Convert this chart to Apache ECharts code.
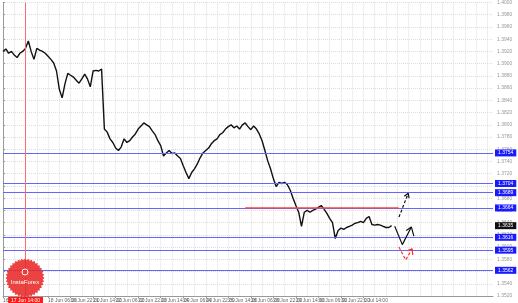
<!DOCTYPE html>
<html><head><meta charset="utf-8">
<script src="https://cdn.jsdelivr.net/npm/echarts@6.0.0/dist/echarts.min.js"></script>
<style>html,body{margin:0;padding:0;background:#fff}#c{width:518px;height:303px}</style>
</head><body><div id="c"></div>
<script>
// ---- data ----
const tickLabels = ["16 Jun 2021","17 Jun 14:00","18 Jun 06:00","18 Jun 22:00","21 Jun 14:00","22 Jun 06:00","22 Jun 22:00","23 Jun 14:00","24 Jun 06:00","24 Jun 22:00","25 Jun 14:00","28 Jun 06:00","28 Jun 22:00","29 Jun 14:00","30 Jun 06:00","30 Jun 22:00","1 Jul 14:00","2 Jul 06:00"];
const closes = [
1.3920,1.3924,1.3917,1.3920,1.3914,1.3910,1.3917,1.3920,1.3925,1.3937,
1.3920,1.3907,1.3925,1.3922,1.3920,1.3917,1.3912,1.3907,1.3901,1.3888,
1.3858,1.3844,1.3867,1.3884,1.3881,1.3878,1.3873,1.3868,1.3875,1.3883,
1.3875,1.3862,1.3888,1.3889,1.3888,1.3891,1.3793,1.3788,1.3777,1.3771,
1.3762,1.3758,1.3764,1.3777,1.3771,1.3774,1.3780,1.3785,1.3793,1.3798,
1.3803,1.3800,1.3797,1.3790,1.3784,1.3774,1.3766,1.3749,1.3754,1.3758,
1.3753,1.3754,1.3749,1.3745,1.3733,1.3722,1.3712,1.3722,1.3728,1.3736,
1.3746,1.3754,1.3758,1.3762,1.3769,1.3774,1.3777,1.3784,1.3787,1.3793,
1.3797,1.3800,1.3795,1.3798,1.3793,1.3800,1.3803,1.3797,1.3792,1.3798,
1.3793,1.3785,1.3774,1.3758,1.3741,1.3728,1.3712,1.3699,1.3706,1.3704,
1.3706,1.3702,1.3693,1.3680,1.3668,1.3657,1.3634,1.3657,1.3660,1.3657,
1.3660,1.3662,1.3665,1.3668,1.3662,1.3655,1.3647,1.3640,1.3614,1.3627,
1.3631,1.3629,1.3632,1.3634,1.3636,1.3639,1.3640,1.3642,1.3640,1.3647,
1.3650,1.3637,1.3636,1.3637,1.3636,1.3634,1.3632,1.3632,1.3635];
const totalBars = 175;
const levels = [1.3754, 1.3704, 1.3689, 1.3664, 1.3616, 1.3595, 1.3562];
const redLevel = 1.3664;
const redRange = [86, 140.5];
const markerIndex = 8;
const markerLabel = "17 Jun 14:00";
const arrowUp = [[140.6,1.3649],[143.9,1.3688]];
const arrowUpHead = [[142.5,1.3683],[143.9,1.3688],[144.2,1.3680]];
const arrowV = [[139.1,1.3634],[141.8,1.3604],[145.0,1.3633]];
const arrowVHead = [[143.2,1.3627],[145.0,1.3633],[145.9,1.3618]];
const arrowRed = [[140.6,1.3600],[143.0,1.3579],[145.3,1.3597]];
const arrowRedHead = [[143.5,1.3594],[145.3,1.3597],[145.5,1.3587]];
const yMin = 1.3520, yMax = 1.4000, yStep = 0.0020;

// ---- chart ----
const cats = [];
for (let i = 0; i < totalBars; i++) cats.push(i);
const chart = echarts.init(document.getElementById('c'), null, {renderer: 'canvas'});
const FONT = 'Liberation Sans';
const tagLabel = (bg) => ({
  show: true, position: 'end', distance: 2, fontSize: 5, fontFamily: FONT,
  color: '#fff', backgroundColor: bg, padding: [1, 3],
  formatter: p => Number(p.value).toFixed(4)
});
const pathSeries = (data, color, dashed) => ({
  type: 'line', xAxisIndex: 1, yAxisIndex: 0, data: data, symbol: 'none',
  silent: true, animation: false, z: 5,
  lineStyle: {color: color, width: 1.2, type: dashed ? [3, 2] : 'solid'}
});
// logo badge
const cx = 25, cy = 278, teeth = 36, pts = [];
for (let k = 0; k < teeth * 2; k++) {
  const r = k % 2 === 0 ? 19.5 : 17.8;
  const a = Math.PI * k / teeth;
  pts.push([cx + r * Math.cos(a), cy + r * Math.sin(a)]);
}
const lastPrice = closes[closes.length - 1];
chart.setOption({
  animation: false,
  backgroundColor: '#fff',
  grid: {left: 0, right: 25, top: 1, bottom: 7, containLabel: false},
  xAxis: [{
    type: 'category', data: cats, boundaryGap: false,
    axisLine: {show: true, lineStyle: {color: '#999', width: 1}},
    axisTick: {show: true, length: 2, interval: i => i % 8 === 0 && i <= 136, lineStyle: {color: '#999'}},
    axisLabel: {
      show: true, interval: i => i % 8 === 0 && i <= 136 && i !== markerIndex,
      formatter: (v, i) => tickLabels[i / 8] || '',
      fontSize: 5, fontFamily: FONT, color: '#666', align: 'left', margin: 2
    },
    splitLine: {show: true, interval: i => i % 4 === 0, lineStyle: {color: '#dedede', type: 'dotted', width: 1}}
  }, {
    type: 'value', min: 0, max: totalBars - 1, show: false
  }],
  yAxis: [{
    type: 'value', position: 'right', min: yMin, max: yMax, interval: yStep,
    axisLine: {show: true, lineStyle: {color: '#999'}},
    axisTick: {show: true, length: 2, lineStyle: {color: '#999'}},
    axisLabel: {show: true, fontSize: 5, fontFamily: FONT, color: '#999', margin: 4,
      formatter: v => v.toFixed(4), hideOverlap: false, showMinLabel: true, showMaxLabel: true},
    splitLine: {show: true, lineStyle: {color: '#dedede', type: 'dotted', width: 1}}
  }],
  series: [{
    type: 'line', data: closes, symbol: 'none', z: 4, silent: true,
    lineStyle: {color: '#111', width: 1.4},
    markLine: {
      silent: true, symbol: ['none', 'none'], animation: false, precision: 4,
      data: levels.map(v => ({yAxis: v, lineStyle: {color: '#6464ff', width: 1, type: 'solid'}, label: tagLabel('#1a1aff')}))
        .concat([{yAxis: lastPrice, lineStyle: {color: 'rgba(0,0,0,0)', width: 1, type: 'solid'}, label: tagLabel('#111')}])
        .concat([{xAxis: markerIndex, lineStyle: {color: '#ff6b6b', width: 1, type: 'solid'},
          label: {show: true, position: 'start', distance: 1, fontSize: 5, fontFamily: FONT, color: '#fff',
            backgroundColor: '#ff1a1a', padding: [1, 3], formatter: markerLabel}}])
    }
  },
  pathSeries([[redRange[0], redLevel], [redRange[1], redLevel]], '#ff4040', false),
  pathSeries(arrowUp, '#111', true),
  pathSeries(arrowUpHead, '#111', false),
  pathSeries(arrowV, '#111', false),
  pathSeries(arrowVHead, '#111', false),
  pathSeries(arrowRed, '#ff3030', true),
  pathSeries(arrowRedHead, '#ff3030', false)
  ],
  graphic: [{
    type: 'polygon', shape: {points: pts}, style: {fill: 'rgba(232,40,40,0.88)'}, z: 100
  }, {
    type: 'circle', shape: {cx: cx, cy: cy - 6, r: 3}, style: {fill: 'none', stroke: '#fff', lineWidth: 1}, z: 101
  }, {
    type: 'text', x: cx, y: cy + 4, style: {text: 'InstaForex', fill: '#fff', fontSize: 6, fontFamily: FONT, align: 'center', verticalAlign: 'middle'}, z: 101
  }]
});
</script></body></html>
